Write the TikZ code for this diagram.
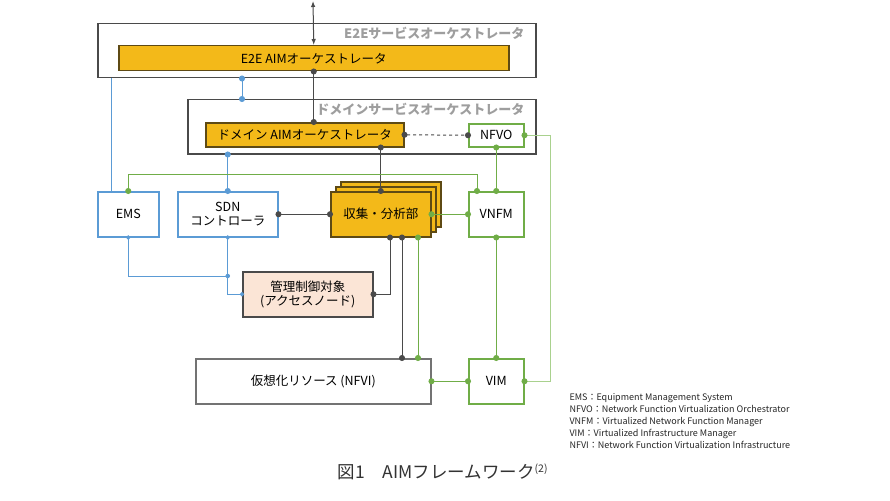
\documentclass[tikz,border=0pt]{standalone}
\usepackage{fontspec}
\setmainfont{Noto Sans CJK JP}
\usetikzlibrary{arrows.meta}

\begin{document}
\begin{tikzpicture}[x=1pt, y=-1pt, font=\fontsize{12.5}{14.5}\selectfont,
  box/.style={draw, rectangle, inner sep=0pt, align=center, anchor=north west, line width=1.5pt},
  link/.style={{Circle[length=6pt]}-{Circle[length=6pt]}, shorten <=-3pt, shorten >=-3pt, line width=1pt},
  smalllink/.style={{Circle[length=4.4pt]}-{Circle[length=4.4pt]}, shorten <=-2.2pt, shorten >=-2.2pt, line width=1pt}]

\definecolor{cAim}{HTML}{F3B919}
\definecolor{cAimLine}{HTML}{5E4A14}
\definecolor{cBlue}{HTML}{5B9BD5}
\definecolor{cGreen}{HTML}{70AD47}
\definecolor{cLight}{HTML}{A9D18E}
\definecolor{cPeach}{HTML}{FBE5D6}
\definecolor{cFrame}{HTML}{4A4A4A}
\definecolor{cLine}{HTML}{4A4A4A}

\useasboundingbox[fill=white] (0,0) rectangle (890,500);

%% Geometry: pixel positions of the vertical connectors.
\def\xems{111}
\def\xbus{242}
\def\xctl{390}
\def\xres{402}
\def\xgrn{418}
\def\xvnf{477}
\def\xout{550}

%% ---------- orchestrators ----------
\node[box, draw=cFrame, minimum width=438, minimum height=54] (e2e) at (97,23) {};
\node[anchor=base east, font=\fontsize{13}{15}\selectfont\bfseries, black!38] (e2elbl) at (528,39) {E2Eサービスオーケストレータ};
\node[box, fill=cAim, draw=cAimLine, minimum width=390, minimum height=25] (e2eaim) at (118,45) {E2E AIMオーケストレータ};

\node[box, draw=cFrame, minimum width=348, minimum height=54] (dom) at (187,99) {};
\node[anchor=base east, font=\fontsize{13}{15}\selectfont\bfseries, black!38] (domlbl) at (528,114) {ドメインサービスオーケストレータ};
\node[box, fill=cAim, draw=cAimLine, minimum width=198, minimum height=24] (domaim) at (205,122) {ドメイン AIMオーケストレータ};
\node[box, draw=cGreen, minimum width=55, minimum height=23] (nfvo) at (468,123) {NFVO};

%% ---------- controllers and the collection unit ----------
\node[box, draw=cBlue, minimum width=61, minimum height=45] (ems) at (97,191) {EMS};
\node[box, draw=cBlue, minimum width=100, minimum height=45] (sdn) at (177,191) {SDN\\コントローラ};

\node[box, fill=cAim, draw=cAimLine, minimum width=100, minimum height=45] (col3) at (340,181) {};
\node[box, fill=cAim, draw=cAimLine, minimum width=100, minimum height=45] (col2) at (335,186) {};
\node[box, fill=cAim, draw=cAimLine, minimum width=100, minimum height=45] (col) at (330,191) {収集・分析部};

\node[box, draw=cGreen, minimum width=55, minimum height=45] (vnfm) at (468,191) {VNFM};

\node[box, fill=cPeach, draw=cFrame, minimum width=130, minimum height=45] (ctrl) at (242,271) {管理制御対象\\(アクセスノード)};

%% ---------- resources ----------
\node[box, draw=black!55, minimum width=235, minimum height=45] (nfvi) at (195,358) {仮想化リソース (NFVI)};
\node[box, draw=cGreen, minimum width=55, minimum height=45] (vim) at (468,358) {VIM};

%% ---------- black links ----------
\coordinate (ext) at (313,1);
\draw[{Latex[length=6pt]}-{Latex[length=6pt]}, cLine, line width=1pt] (ext) -- (e2eaim.north);
\draw[link, cLine] (e2eaim.south) -- (e2eaim.south |- domaim.north);
\draw[link, cLine] (col.north |- domaim.south) -- (col.north);
\draw[link, cLine, dashed] (domaim.east) -- (nfvo.west);
\draw[link, cLine] (sdn.east) -- (col.west);
\draw[link, cLine] (col.south -| \xctl,0) |- (ctrl.east);
\draw[link, cLine] (col.south -| \xres,0) -- (nfvi.north -| \xres,0);

%% ---------- blue links ----------
\draw[link, cBlue] (e2e.south -| \xbus,0) -- (dom.north -| \xbus,0);
\draw[cBlue, line width=1pt] (e2e.south -| \xems,0) -- (ems.north -| \xems,0);
\draw[link, cBlue] (sdn.north |- dom.south) -- (sdn.north);
\draw[smalllink, cBlue] (ems.south) |- (sdn.south |- 0,276);
\draw[smalllink, cBlue] (sdn.south) |- (ctrl.west);
\fill[cBlue] (sdn.south |- 0,276) circle (2.2pt);

%% ---------- green links ----------
\draw[link, cGreen] (ems.north) |- (\xvnf,174) -- (vnfm.north -| \xvnf,0);
\draw[link, cGreen] (nfvo.south) -- (vnfm.north);
\draw[link, cGreen] (col.east) -- (vnfm.west);
\draw[link, cGreen] (vnfm.south) -- (vim.north);
\draw[link, cGreen] (col.south -| \xgrn,0) -- (nfvi.north -| \xgrn,0);
\draw[link, cGreen] (nfvi.east) -- (vim.west);
\draw[link, cLight, {Circle[length=6pt, cGreen]}-{Circle[length=6pt, cGreen]}] (nfvo.east) -- (nfvo.east -| \xout,0) |- (vim.east);

%% ---------- legend and caption ----------
\node[anchor=north west, align=left, font=\fontsize{9}{12}\selectfont, black!85] (legend) at (566,390)
  {EMS：Equipment Management System\\
   NFVO：Network Function Virtualization Orchestrator\\
   VNFM：Virtualized Network Function Manager\\
   VIM：Virtualized Infrastructure Manager\\
   NFVI：Network Function Virtualization Infrastructure};

\node[font=\fontsize{17.5}{20}\selectfont, black!80] (caption) at (443,472)
  {図1\hspace{1em}AIMフレームワーク\textsuperscript{\fontsize{10.5}{12}\selectfont(2)}};

\end{tikzpicture}
\end{document}
